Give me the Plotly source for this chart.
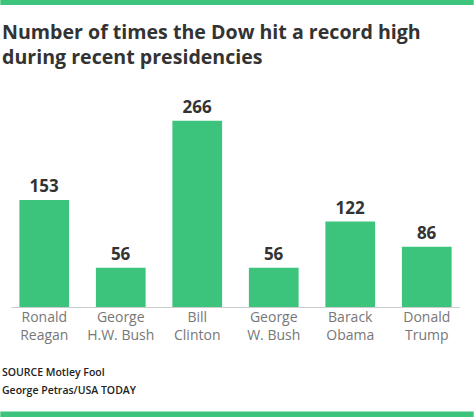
import plotly.graph_objects as go

names = ["Ronald<br>Reagan", "George<br>H.W. Bush", "Bill<br>Clinton", "George<br>W. Bush", "Barack<br>Obama", "Donald<br>Trump"]
records = [153, 56, 266, 56, 122, 86]

W, H = 474, 417
L, R, T, B = 5.7, 8.7, 97, 110
PH = H - T - B
PW = W - L - R
GREEN = "#3cc47c"

def px(x):
    return (x - L) / PW

def py(y):
    return (H - B - y) / PH

fig = go.Figure(go.Bar(
    x=list(range(len(names))), y=records,
    marker=dict(color=GREEN, line=dict(width=0)),
    width=0.65,
    text=[str(v) for v in records], textposition="outside",
    textfont=dict(family="Open Sans", size=17, color="#333333", weight="bold"),
    cliponaxis=False,
    hoverinfo="skip",
))

fig.update_layout(
    width=W, height=H,
    margin=dict(l=L, r=R, t=T, b=B, autoexpand=False),
    paper_bgcolor="white", plot_bgcolor="white",
    showlegend=False,
    bargap=0.35,
    xaxis=dict(tickmode="array", tickvals=list(range(len(names))), ticktext=names,
               range=[-0.5, 5.5], showgrid=False, zeroline=False, showline=False,
               ticks="", tickfont=dict(family="Open Sans", size=14, color="#777777")),
    yaxis=dict(range=[0, 300], visible=False, showgrid=False),
    shapes=[
        dict(type="rect", xref="paper", yref="paper", x0=px(0), x1=px(W), y0=py(5), y1=py(0),
             fillcolor=GREEN, line=dict(width=0), layer="above"),
        dict(type="rect", xref="paper", yref="paper", x0=px(0), x1=px(W), y0=py(H), y1=py(411.5),
             fillcolor=GREEN, line=dict(width=0), layer="above"),
        dict(type="line", xref="paper", yref="paper", x0=px(11), x1=px(460), y0=py(307.5), y1=py(307.5),
             line=dict(color="#cccccc", width=1)),
    ],
    annotations=[
        dict(text="<b>Number of times the Dow hit a record high<br>during recent presidencies</b>",
             xref="paper", yref="paper", x=px(0), y=py(16), xanchor="left", yanchor="top",
             align="left", showarrow=False,
             font=dict(family="Open Sans", size=19.6, color="#333333")),
        dict(text="SOURCE Motley Fool", xref="paper", yref="paper", x=px(0), y=py(372),
             xanchor="left", yanchor="middle", showarrow=False,
             font=dict(family="Open Sans", size=10.5, color="#222222", weight=600)),
        dict(text="George Petras/USA TODAY", xref="paper", yref="paper", x=px(0), y=py(390),
             xanchor="left", yanchor="middle", showarrow=False,
             font=dict(family="Open Sans", size=10.5, color="#222222", weight=600)),
    ],
)

fig.write_html("out.html", config={"displayModeBar": False},
               post_script="document.body.style.margin='0';")
